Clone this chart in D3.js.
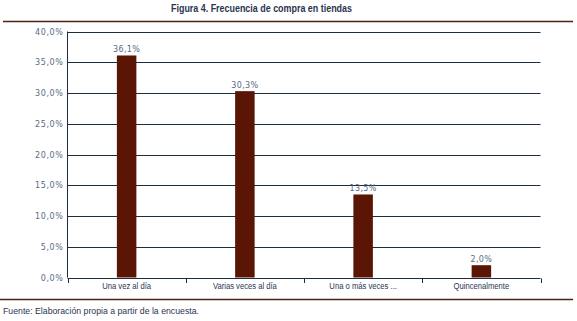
<!DOCTYPE html>
<html><head><meta charset="utf-8">
<script src="https://cdn.jsdelivr.net/npm/d3@7"></script>
<style>
body{margin:0;background:#fff;}
svg{display:block;}
</style></head>
<body>
<svg id="c" width="577" height="321"></svg>
<script>
const categories = ["Una vez al día", "Varias veces al día", "Una o más veces ...", "Quincenalmente"];
const values = [36.1, 30.3, 13.5, 2.0];
const yTicks = [0, 5, 10, 15, 20, 25, 30, 35, 40];
const title = "Figura 4. Frecuencia de compra en tiendas";
const source = "Fuente: Elaboración propia a partir de la encuesta.";

const svg = d3.select("#c");
const fmt = v => d3.format(".1f")(v).replace(".", ",") + "%";

const x = d3.scaleBand().domain(categories).range([67.5, 540.5]).paddingInner(0).paddingOuter(0);
const y = d3.scaleLinear().domain([0, 40]).range([277.5, 31.5]);

const navy = "#1c2d3f";
const brown = "#5a1505";
const labelCol = "#5a6a84";

// title
svg.append("text").attr("x", 261.5).attr("y", 12).attr("text-anchor", "middle")
  .attr("font-family", "'Liberation Sans', sans-serif")
  .attr("font-weight", "bold")
  .attr("font-size", 11.5).attr("fill", "#2b3550")
  .attr("textLength", 181).attr("lengthAdjust", "spacingAndGlyphs")
  .text(title);
svg.append("line").attr("x1", 3).attr("x2", 573).attr("y1", 21.5).attr("y2", 21.5)
  .attr("stroke", "#4a2214").attr("stroke-width", 1.6);

// gridlines
svg.append("g").selectAll("line").data(yTicks).join("line")
  .attr("x1", 67.5).attr("x2", 540.5)
  .attr("y1", d => Math.round(y(d)) + 0.5).attr("y2", d => Math.round(y(d)) + 0.5)
  .attr("stroke", navy).attr("stroke-width", 1);

// y axis
const ya = svg.append("g").attr("transform", "translate(67.5,0)")
  .call(d3.axisLeft(y).tickValues(yTicks).tickFormat(fmt).tickSize(0).tickPadding(4));
ya.select(".domain").attr("stroke", navy).attr("d", `M0,${y(40)}V${y(0)}`);
ya.selectAll("text").attr("font-family", "Verdana, 'DejaVu Sans', sans-serif")
  .attr("font-size", 8).attr("fill", labelCol).attr("letter-spacing", 0.6);

// bars
const bw = 19.5;
svg.append("g").selectAll("rect").data(values).join("rect")
  .attr("x", (d, i) => x(categories[i]) + x.bandwidth() / 2 - bw / 2)
  .attr("width", bw)
  .attr("y", d => y(d)).attr("height", d => y(0) - y(d))
  .attr("fill", brown);

// value labels
svg.append("g").selectAll("text").data(values).join("text")
  .attr("x", (d, i) => x(categories[i]) + x.bandwidth() / 2)
  .attr("y", d => y(d) - 3)
  .attr("text-anchor", "middle")
  .attr("font-family", "Verdana, 'DejaVu Sans', sans-serif")
  .attr("font-size", 8).attr("fill", labelCol).attr("letter-spacing", 0.4)
  .text(fmt);

// x axis
const xa = svg.append("g").attr("transform", `translate(0,${Math.round(y(0)) + 0.5})`)
  .call(d3.axisBottom(x).tickSize(0).tickPadding(4));
xa.select(".domain").remove();
xa.selectAll("text").attr("font-family", "'Liberation Sans', 'DejaVu Sans', sans-serif")
  .attr("font-size", 9).attr("fill", "#2b3550")
  .attr("transform", "scale(0.85,1)");
const bounds = categories.map(c => x(c)).concat([x.range()[1]]);
svg.append("g").selectAll("line").data(bounds).join("line")
  .attr("x1", d => Math.round(d) + 0.5).attr("x2", d => Math.round(d) + 0.5)
  .attr("y1", Math.round(y(0)) + 0.5).attr("y2", Math.round(y(0)) + 5)
  .attr("stroke", navy);

// bottom rule and source
svg.append("line").attr("x1", 0).attr("x2", 573).attr("y1", 299.5).attr("y2", 299.5)
  .attr("stroke", "#4a2214").attr("stroke-width", 1.4);
svg.append("text").attr("x", 3).attr("y", 314)
  .attr("font-family", "'Liberation Sans', 'DejaVu Sans', sans-serif")
  .attr("font-size", 9).attr("fill", "#2b3550")
  .attr("textLength", 196).attr("lengthAdjust", "spacingAndGlyphs")
  .text(source);
</script>
</body></html>
